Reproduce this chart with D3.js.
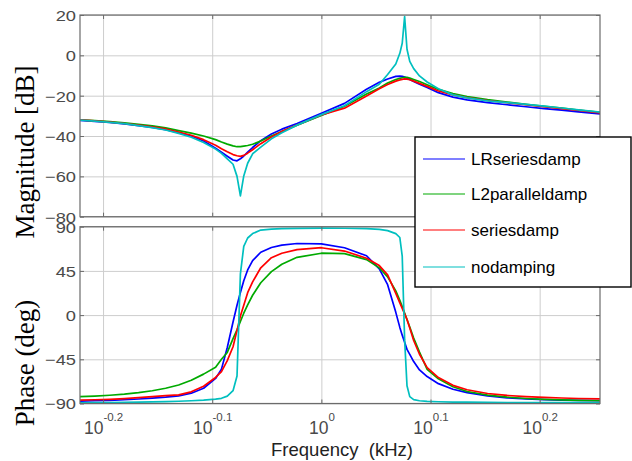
<!DOCTYPE html>
<html>
<head>
<meta charset="utf-8">
<script src="https://cdn.jsdelivr.net/npm/d3@7"></script>
<style>
  body { margin: 0; background: #fff; }
  svg { display: block; }
</style>
</head>
<body>
<svg id="chart" width="632" height="461"></svg>
<script>
// Frequency grid (kHz), denser around the two resonances
const freq = [0.601,0.62,0.64,0.66,0.68,0.70,0.72,0.74,0.76,0.78,0.80,0.81,0.82,0.83,0.837,0.843,0.849,0.856,0.865,0.88,0.90,0.92,0.95,1.00,1.05,1.10,1.13,1.15,1.17,1.18,1.186,1.192,1.198,1.205,1.215,1.23,1.25,1.28,1.32,1.36,1.42,1.48,1.54,1.60,1.66,1.72,1.80];

const seriesNames = ["LRseriesdamp", "L2paralleldamp", "seriesdamp", "nodamping"];
const seriesColors = ["#0000ff", "#00aa00", "#ff0000", "#00bfbf"];

// Magnitude (dB)
const magLR     = [-32.2,-32.7,-33.3,-34.0,-34.8,-35.7,-36.8,-38.3,-40.0,-42.5,-46.0,-48.0,-50.0,-51.9,-52.3,-51.3,-49.9,-48.0,-45.7,-42.3,-39.0,-36.6,-33.8,-28.7,-23.8,-16.8,-13.4,-11.7,-10.4,-10.3,-10.4,-10.8,-11.4,-12.0,-12.9,-14.3,-15.9,-18.5,-20.7,-22.1,-23.4,-24.5,-25.5,-26.4,-27.2,-28.0,-29.0];
const magL2     = [-32.0,-32.4,-32.9,-33.5,-34.2,-35.0,-36.0,-37.3,-38.6,-40.0,-41.8,-43.0,-44.0,-44.9,-45.3,-45.3,-45.0,-44.7,-44.1,-42.5,-40.0,-37.8,-34.7,-29.8,-25.2,-19.2,-16.2,-13.7,-12.0,-11.4,-11.1,-10.9,-10.9,-11.3,-12.0,-13.0,-14.6,-16.9,-18.9,-20.4,-22.0,-23.2,-24.3,-25.3,-26.2,-27.1,-28.3];
const magSeries = [-32.0,-32.5,-33.1,-33.8,-34.6,-35.5,-36.5,-38.0,-39.6,-41.8,-44.6,-46.3,-47.8,-49.2,-49.8,-50.1,-49.6,-48.5,-46.8,-43.8,-40.5,-37.7,-34.5,-29.6,-26.2,-20.2,-16.6,-14.5,-12.8,-12.2,-11.9,-11.7,-11.8,-12.1,-12.8,-13.9,-15.4,-17.7,-19.6,-21.0,-22.4,-23.5,-24.5,-25.5,-26.4,-27.3,-28.5];
const magNone   = [-32.1,-32.6,-33.2,-33.9,-34.8,-35.8,-37.0,-38.7,-40.6,-43.2,-46.5,-48.6,-51.3,-54.0,-60.0,-69.7,-59.8,-53.5,-48.8,-45.5,-41.4,-38.4,-34.6,-29.4,-25.0,-18.0,-14.3,-9.5,-4.3,1.0,6.0,19.2,3.0,-3.0,-6.6,-10.2,-13.2,-16.6,-19.6,-21.1,-22.6,-23.4,-24.3,-25.2,-26.1,-27.0,-28.2];

// Phase (deg)
const phLR     = [-87.5,-87.2,-86.8,-86.2,-85.4,-84.5,-83.5,-82.2,-79.5,-74.5,-64.5,-55.0,-33.0,-7.0,10.0,23.0,35.0,46.0,55.5,64.0,68.8,71.3,72.9,72.6,68.6,60.4,47.0,31.0,2.8,-12.5,-20.4,-27.6,-34.9,-40.0,-47.3,-55.8,-62.6,-69.8,-75.5,-79.0,-82.3,-84.2,-85.3,-86.0,-86.5,-86.8,-87.0];
const phL2     = [-83.0,-82.4,-81.6,-80.5,-79.0,-77.0,-74.5,-71.2,-66.4,-60.1,-53.0,-45.0,-38.0,-24.0,-15.0,-6.5,1.9,10.3,20.2,32.9,44.3,51.8,58.8,63.0,62.6,56.5,48.1,38.9,24.7,15.1,8.6,2.1,-4.4,-12.1,-23.3,-37.7,-55.3,-64.9,-73.0,-77.8,-81.5,-83.6,-84.9,-85.8,-86.4,-86.8,-87.2];
const phSeries = [-86.5,-86.2,-85.7,-85.0,-84.1,-83.0,-82.0,-81.2,-78.1,-72.4,-63.5,-57.6,-46.4,-32.2,-15.6,-1.0,10.0,22.8,33.8,48.2,58.4,63.0,66.7,68.6,65.2,57.9,50.4,40.9,22.1,12.5,6.9,1.2,-4.5,-13.2,-25.9,-39.9,-53.5,-63.6,-71.5,-76.0,-79.8,-81.8,-83.0,-83.8,-84.4,-84.9,-85.3];
const phNone   = [-89.3,-89.2,-89.0,-88.9,-88.7,-88.4,-88.1,-87.7,-87.2,-86.5,-85.5,-84.7,-82.5,-77.0,-62.0,42.0,70.0,78.5,83.0,86.6,87.5,88.0,88.3,88.5,88.4,88.0,87.3,86.0,83.0,79.0,60.0,-25.0,-72.0,-83.0,-86.0,-87.2,-87.8,-88.2,-88.5,-88.7,-88.9,-89.0,-89.1,-89.1,-89.2,-89.2,-89.3];

// Tick labels
const magTicks = [-80, -60, -40, -20, 0, 20];
const phaseTicks = [-90, -45, 0, 45, 90];
const freqTickExps = ["-0.2", "-0.1", "0", "0.1", "0.2"];

const magSeriesList = [magLR, magL2, magSeries, magNone];
const phSeriesList = [phLR, phL2, phSeries, phNone];

const svg = d3.select("#chart");
const plotLeft = 80, plotRight = 600;
const magTop = 15, magBottom = 216.7;
const phTop = 226.7, phBottom = 403.5;

const x = d3.scaleLog().domain([0.601, 1.80]).range([plotLeft, plotRight]);
const yMag = d3.scaleLinear().domain([-80, 20]).range([magBottom, magTop]);
const yPh = d3.scaleLinear().domain([-90, 90]).range([phBottom, phTop]);
const freqTicks = freqTickExps.map(e => Math.pow(10, +e));

const axisColor = "#6b6b6b";
const gridColor = "#cdcdcd";
const labelColor = "#4a4a4a";

function drawPanel(y, top, bottom, ticks, seriesList, id) {
  const g = svg.append("g");
  const w = plotRight - plotLeft, h = bottom - top;

  // grid
  const gx = g.append("g").attr("transform", `translate(0,${bottom})`)
    .call(d3.axisBottom(x).tickValues(freqTicks).tickSize(-h).tickFormat(""));
  const gy = g.append("g").attr("transform", `translate(${plotLeft},0)`)
    .call(d3.axisLeft(y).tickValues(ticks).tickSize(-w).tickFormat(""));
  [gx, gy].forEach(a => {
    a.select(".domain").remove();
    a.selectAll(".tick line").attr("stroke", gridColor).attr("stroke-width", 1);
  });

  // curves
  g.append("clipPath").attr("id", id)
    .append("rect").attr("x", plotLeft).attr("y", top).attr("width", w).attr("height", h);
  const line = d3.line().x((d, i) => x(freq[i])).y(d => y(d));
  const cg = g.append("g").attr("clip-path", `url(#${id})`);
  seriesList.forEach((s, k) => {
    cg.append("path").datum(s)
      .attr("d", line)
      .attr("fill", "none")
      .attr("stroke", seriesColors[k])
      .attr("stroke-width", 1.7)
      .attr("stroke-linejoin", "round");
  });

  // inner tick marks on all four sides
  const tickLen = 4;
  const axes = [
    [d3.axisBottom(x).tickValues(freqTicks), `translate(0,${bottom})`],
    [d3.axisTop(x).tickValues(freqTicks), `translate(0,${top})`],
    [d3.axisLeft(y).tickValues(ticks), `translate(${plotLeft},0)`],
    [d3.axisRight(y).tickValues(ticks), `translate(${plotRight},0)`]
  ];
  axes.forEach(([ax, tr]) => {
    const a = g.append("g").attr("transform", tr)
      .call(ax.tickSize(-tickLen).tickFormat(""));
    a.select(".domain").remove();
    a.selectAll(".tick line").attr("stroke", axisColor);
  });

  // box
  g.append("rect").attr("x", plotLeft).attr("y", top)
    .attr("width", w).attr("height", h)
    .attr("fill", "none").attr("stroke", axisColor).attr("stroke-width", 1.2);

  // y tick labels
  const sx = 1.22;
  const yl = g.append("g").attr("transform", `translate(${plotLeft},0)`)
    .call(d3.axisLeft(y).tickValues(ticks).tickSize(0).tickPadding(0));
  yl.select(".domain").remove();
  yl.selectAll(".tick text")
    .attr("x", -4 / sx)
    .attr("dy", "0.36em")
    .attr("transform", `scale(${sx},1)`)
    .attr("font-family", "Liberation Sans, Arial, sans-serif")
    .attr("font-size", 15)
    .attr("fill", labelColor);
  return g;
}

drawPanel(yMag, magTop, magBottom, magTicks, magSeriesList, "clipMag");
drawPanel(yPh, phTop, phBottom, phaseTicks, phSeriesList, "clipPh");

// x tick labels as powers of ten
const xl = svg.append("g").attr("transform", `translate(0,${phBottom})`)
  .call(d3.axisBottom(x).tickValues(freqTicks).tickSize(0).tickFormat(""));
xl.select(".domain").remove();
xl.selectAll(".tick text").each(function(d, i) {
  const t = d3.select(this)
    .attr("y", 30).attr("dy", 0)
    .attr("text-anchor", "middle")
    .attr("font-family", "Liberation Sans, Arial, sans-serif")
    .attr("fill", labelColor);
  t.append("tspan").attr("font-size", 17.5).text("10");
  t.append("tspan").attr("font-size", 11.5).attr("dy", -13).text(freqTickExps[i]);
});

// axis titles
svg.append("text")
  .attr("x", 342).attr("y", 456)
  .attr("text-anchor", "middle")
  .attr("font-family", "Liberation Sans, Arial, sans-serif")
  .attr("font-size", 18.5)
  .attr("fill", "#222")
  .attr("xml:space", "preserve")
  .text("Frequency  (kHz)");

svg.append("text")
  .attr("transform", `translate(34,152) rotate(-90)`)
  .attr("text-anchor", "middle")
  .attr("font-family", "Liberation Serif, Times New Roman, serif")
  .attr("font-size", 27)
  .attr("fill", "#000")
  .text("Magnitude [dB]");

svg.append("text")
  .attr("transform", `translate(34,363) rotate(-90)`)
  .attr("text-anchor", "middle")
  .attr("font-family", "Liberation Serif, Times New Roman, serif")
  .attr("font-size", 27)
  .attr("fill", "#000")
  .text("Phase (deg)");

// legend
const lg = svg.append("g").attr("transform", "translate(415,137)");
lg.append("rect").attr("width", 216).attr("height", 150)
  .attr("fill", "#fff").attr("stroke", "#000").attr("stroke-width", 1.4);
const rowY = [22, 57, 93, 130];
seriesNames.forEach((name, k) => {
  lg.append("line").attr("x1", 8).attr("x2", 50)
    .attr("y1", rowY[k]).attr("y2", rowY[k])
    .attr("stroke", seriesColors[k]).attr("stroke-width", 1.2);
  lg.append("text").attr("x", 56).attr("y", rowY[k]).attr("dy", "0.36em")
    .attr("font-family", "Liberation Sans, Arial, sans-serif")
    .attr("font-size", 17).attr("fill", "#000")
    .text(name);
});
</script>
</body>
</html>
